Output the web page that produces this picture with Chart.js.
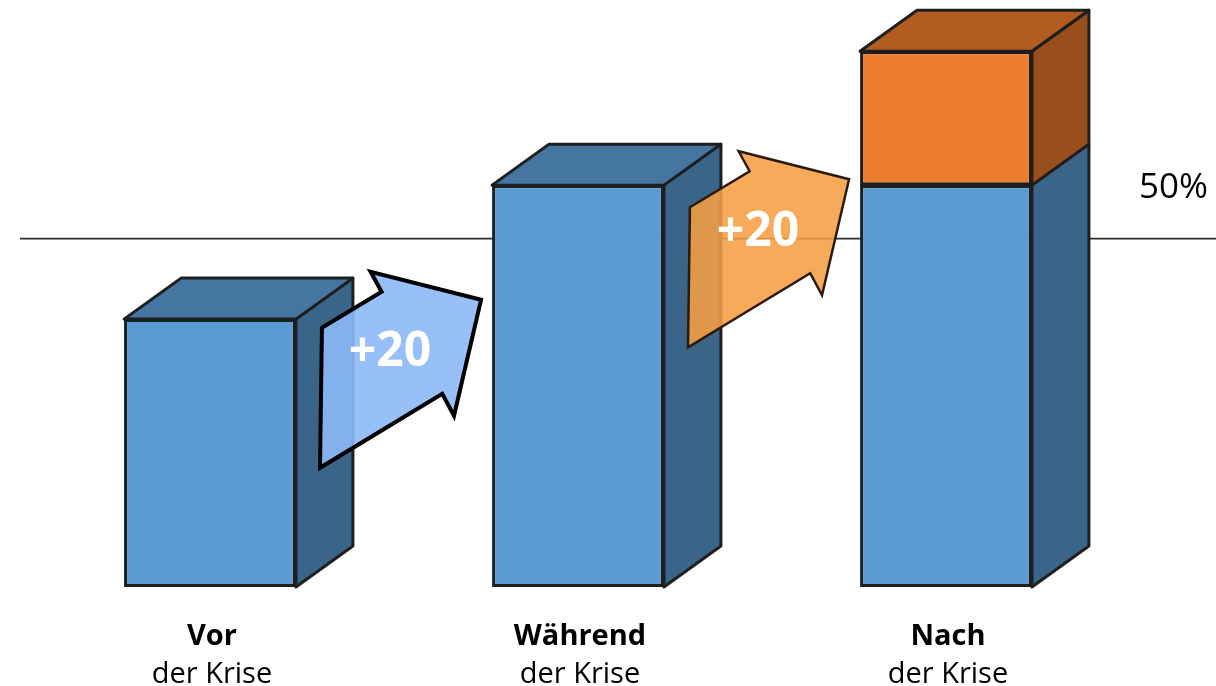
<!DOCTYPE html>
<html>
<head>
<meta charset="utf-8">
<script src="https://cdn.jsdelivr.net/npm/chart.js@4.4.1/dist/chart.umd.min.js"></script>
<style>
  html, body { margin: 0; padding: 0; background: #ffffff; }
  #wrap { width: 1216px; height: 686px; position: relative; }
</style>
</head>
<body>
<div id="wrap"><canvas id="c"></canvas></div>
<script>
// ---- data ----
const categories = ['Vor', 'Während', 'Nach'];
const subLabel = 'der Krise';
const baseValues = [40, 60, 60];      // blue segment
const addedValues = [null, null, 20]; // orange segment
const referenceValue = 52;            // horizontal reference line
const referenceLabel = '50%';
const arrowLabels = ['+20', '+20'];
const arrowStartValues = [38.7, 56.7]; // level where each arrow's back edge starts

// ---- styles ----
const FONT = '"Open Sans", "Noto Sans", sans-serif';
const DEPTH_X = 57, DEPTH_Y = -41;
const EDGE = '#1e1e1e';
const faceColors = [
  { front: '#5B9BD5', top: '#4576A2', side: '#3A6488' },
  { front: '#ED7D31', top: '#B25C22', side: '#994E1D' }
];
const arrowStyles = [
  { fill: 'rgba(140,185,248,0.9)', stroke: '#000000', width: 4 },
  { fill: 'rgba(246,158,66,0.88)', stroke: '#2a1a0a', width: 2.5 }
];
// arrow outline relative to its back-top corner (x as share of arrow length, y in px)
const arrowShape = [[0, 0], [0.375, -36], [0.306, -56], [1, -28], [0.83, 88], [0.756, 66], [-0.012, 140]];

const threeD = {
  id: 'threeD',
  beforeDatasetsDraw(chart) {
    const { ctx, chartArea, scales: { y } } = chart;
    const ly = y.getPixelForValue(referenceValue);
    ctx.save();
    ctx.strokeStyle = '#2e2e2e';
    ctx.lineWidth = 1.8;
    ctx.beginPath();
    ctx.moveTo(chartArea.left - 6, ly);
    ctx.lineTo(chart.width, ly);
    ctx.stroke();
    ctx.fillStyle = '#000';
    ctx.font = '35px ' + FONT;
    ctx.textAlign = 'right';
    ctx.textBaseline = 'alphabetic';
    ctx.fillText(referenceLabel, chart.width - 8, ly - 41);
    ctx.restore();
  },
  afterDatasetsDraw(chart) {
    const { ctx, chartArea, scales: { y } } = chart;
    const metas = chart.data.datasets.map((d, i) => chart.getDatasetMeta(i));
    ctx.save();
    ctx.lineJoin = 'round';
    ctx.strokeStyle = EDGE;
    ctx.lineWidth = 3;
    const nCat = categories.length;
    const fronts = [];
    for (let c = 0; c < nCat; c++) {
      let topSeg = null;
      metas.forEach((meta, di) => {
        const v = chart.data.datasets[di].data[c];
        if (v === null || v === undefined) return;
        const el = meta.data[c];
        const left = el.x - el.width / 2, right = el.x + el.width / 2;
        const top = Math.min(el.y, el.base), bot = Math.max(el.y, el.base);
        // side face
        ctx.fillStyle = faceColors[di].side;
        ctx.beginPath();
        ctx.moveTo(right, top);
        ctx.lineTo(right + DEPTH_X, top + DEPTH_Y);
        ctx.lineTo(right + DEPTH_X, bot + DEPTH_Y);
        ctx.lineTo(right, bot);
        ctx.closePath();
        ctx.fill(); ctx.stroke();
        // seam between stacked segments
        ctx.beginPath();
        ctx.moveTo(left, top);
        ctx.lineTo(right, top);
        ctx.stroke();
        if (!topSeg || top < topSeg.top) topSeg = { left, right, top, bot, di, x: el.x };
      });
      if (topSeg) {
        ctx.fillStyle = faceColors[topSeg.di].top;
        ctx.beginPath();
        ctx.moveTo(topSeg.left, topSeg.top);
        ctx.lineTo(topSeg.left + DEPTH_X, topSeg.top + DEPTH_Y);
        ctx.lineTo(topSeg.right + DEPTH_X, topSeg.top + DEPTH_Y);
        ctx.lineTo(topSeg.right, topSeg.top);
        ctx.closePath();
        ctx.fill(); ctx.stroke();
        fronts.push(topSeg);
      }
    }
    // arrows between bars
    for (let a = 0; a < arrowLabels.length; a++) {
      const from = fronts[a], to = fronts[a + 1];
      const x0 = from.right + 26;
      const x1 = to.left - 11;
      const len = x1 - x0;
      const y0 = y.getPixelForValue(arrowStartValues[a]);
      const pts = arrowShape.map(p => [x0 + p[0] * len, y0 + p[1]]);
      const st = arrowStyles[a];
      ctx.beginPath();
      pts.forEach((p, i) => i ? ctx.lineTo(p[0], p[1]) : ctx.moveTo(p[0], p[1]));
      ctx.closePath();
      ctx.fillStyle = st.fill;
      ctx.fill();
      ctx.strokeStyle = st.stroke;
      ctx.lineWidth = st.width;
      ctx.lineJoin = 'miter';
      ctx.stroke();
      ctx.fillStyle = '#ffffff';
      ctx.font = 'bold 48px ' + FONT;
      ctx.textAlign = 'center';
      ctx.textBaseline = 'middle';
      ctx.fillText(arrowLabels[a], x0 + 68, y0 + 25);
    }
    // category labels
    ctx.fillStyle = '#000';
    ctx.textAlign = 'center';
    ctx.textBaseline = 'alphabetic';
    fronts.forEach((f, c) => {
      ctx.font = 'bold 29px ' + FONT;
      ctx.fillText(categories[c], f.x + 2, chartArea.bottom + 58);
      ctx.font = '29px ' + FONT;
      ctx.fillText(subLabel, f.x + 2, chartArea.bottom + 96);
    });
    ctx.restore();
  }
};

new Chart(document.getElementById('c'), {
  type: 'bar',
  data: {
    labels: categories,
    datasets: [
      { data: baseValues, backgroundColor: faceColors[0].front },
      { data: addedValues, backgroundColor: faceColors[1].front }
    ].map(d => Object.assign(d, {
      borderColor: EDGE, borderWidth: 3, borderSkipped: false,
      barPercentage: 0.467, categoryPercentage: 1
    }))
  },
  options: {
    responsive: true,
    maintainAspectRatio: false,
    animation: false,
    layout: { padding: { top: 11, bottom: 99, left: 26, right: 86 } },
    plugins: { legend: { display: false }, tooltip: { enabled: false } },
    scales: {
      x: { display: false, stacked: true },
      y: { display: false, stacked: true, min: 0, max: 86 }
    }
  },
  plugins: [threeD]
});
</script>
</body>
</html>
